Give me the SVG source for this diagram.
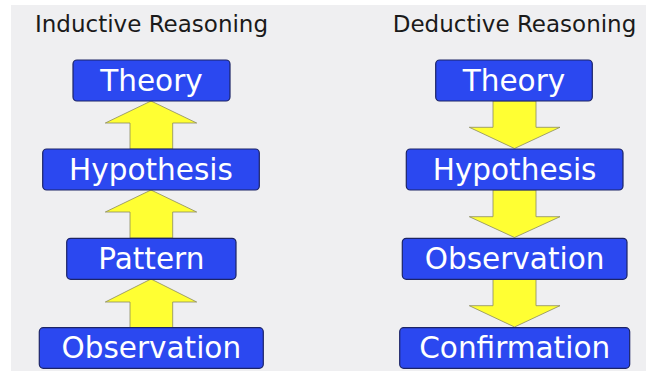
<svg xmlns="http://www.w3.org/2000/svg" width="646" height="371" viewBox="0 0 646 371">
<style>
.box{fill:#2b48f0;stroke:#1c2466;stroke-width:1.2}
.lbl{font-family:"DejaVu Sans",Verdana,sans-serif;font-size:29.5px;fill:#ffffff;text-anchor:middle}
.title{font-family:"DejaVu Sans",Verdana,sans-serif;font-size:23px;fill:#1a1a1a;text-anchor:middle}
.arr{fill:#ffff33;stroke:#8a8a60;stroke-width:0.8;stroke-linejoin:miter}
</style>
<rect x="0" y="0" width="646" height="371" fill="#ffffff"/>
<rect x="11" y="5" width="635" height="366" fill="#efeff1"/>
<text class="title" x="151.5" y="32">Inductive Reasoning</text>
<text class="title" x="514.5" y="32">Deductive Reasoning</text>
<g id="connectors">
<polygon class="arr" points="151,101 196.7,123 172.7,123 172.7,149 130,149 130,123 105.3,123"/>
<polygon class="arr" points="151,190 196.7,212 172.7,212 172.7,238 130,238 130,212 105.3,212"/>
<polygon class="arr" points="151,279 196.7,302 172.7,302 172.7,328 130,328 130,302 105.3,302"/>
<polygon class="arr" points="493,101 536,101 536,127.3 560,127.3 514.5,148.5 469.3,127.3 493,127.3"/>
<polygon class="arr" points="493,190 536,190 536,216.7 560,216.7 514.5,237.5 469.3,216.7 493,216.7"/>
<polygon class="arr" points="493,279 536,279 536,305.7 560,305.7 514.5,327 469.3,305.7 493,305.7"/>
</g>
<g id="ind-theory"><rect class="box" x="73" y="60" width="157" height="41" rx="4"/><text class="lbl" x="151.5" y="90.7">Theory</text></g>
<g id="ind-hypothesis"><rect class="box" x="42.7" y="149" width="216.6" height="41" rx="4"/><text class="lbl" x="151" y="179.7">Hypothesis</text></g>
<g id="ind-pattern"><rect class="box" x="66.7" y="238.3" width="169.3" height="41" rx="4"/><text class="lbl" x="151.3" y="269">Pattern</text></g>
<g id="ind-observation"><rect class="box" x="39.3" y="327.7" width="224" height="40.6" rx="4"/><text class="lbl" x="151.3" y="358.3">Observation</text></g>
<g id="ded-theory"><rect class="box" x="435.7" y="60" width="156.6" height="41" rx="4"/><text class="lbl" x="514" y="90.7">Theory</text></g>
<g id="ded-hypothesis"><rect class="box" x="406.3" y="149" width="216.7" height="41" rx="4"/><text class="lbl" x="514.6" y="179.7">Hypothesis</text></g>
<g id="ded-observation"><rect class="box" x="402.3" y="238.3" width="224.7" height="41" rx="4"/><text class="lbl" x="514.6" y="269">Observation</text></g>
<g id="ded-confirmation"><rect class="box" x="399.7" y="327.7" width="230" height="40.6" rx="4"/><text class="lbl" x="514.7" y="358.3">Confirmation</text></g>
</svg>
